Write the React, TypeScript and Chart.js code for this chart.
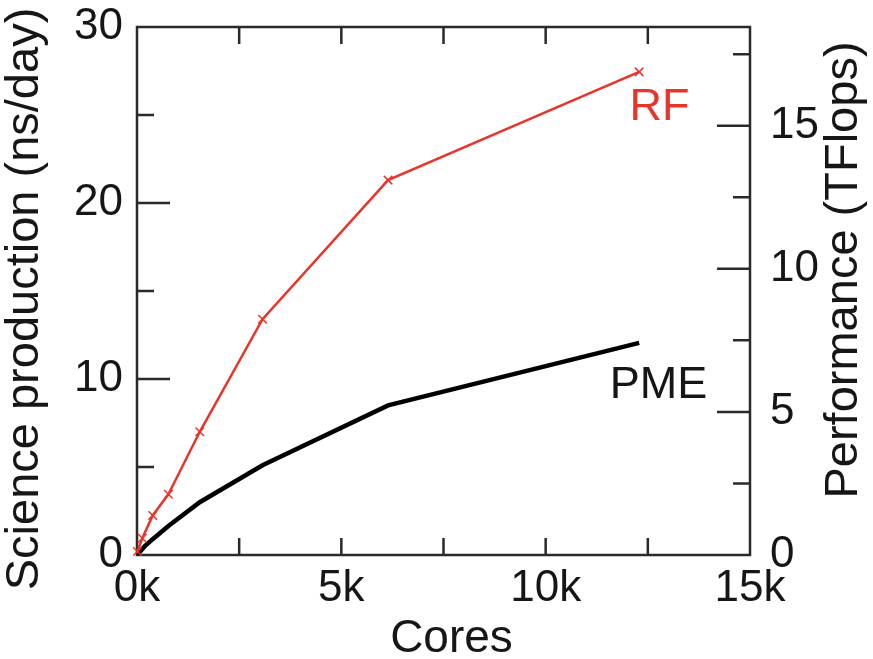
import React, { useEffect, useRef } from "react";
import { Chart, registerables } from "chart.js";

Chart.register(...registerables);

// ---- data ----
const RF_CORES = [10, 130, 384, 768, 1536, 3072, 6144, 12288];
const RF_NS_DAY = [0.2, 0.95, 2.25, 3.45, 7.0, 13.4, 21.3, 27.45];
const PME_CORES = [0, 192, 384, 768, 1536, 3072, 6144, 12288];
const PME_NS_DAY = [0, 0.5, 0.9, 1.65, 3.0, 5.1, 8.5, 12.05];

const X_TICKS = [0, 5000, 10000, 15000];
const X_MINOR = [2500, 7500, 12500];
const Y_TICKS = [0, 10, 20, 30];
const Y_MINOR = [5, 15, 25];
const Y2_TICKS = [0, 5, 10, 15];
const Y2_MINOR = [2.5, 7.5, 12.5, 17.5];
const Y2_MAX = 18.45;

const X_TITLE = "Cores";
const Y_TITLE = "Science production (ns/day)";
const Y2_TITLE = "Performance (TFlops)";
const RF_LABEL = "RF";
const PME_LABEL = "PME";
// label anchors in data units (cores, ns/day)
const RF_LABEL_AT = [12050, 24.7];
const PME_LABEL_AT = [11570, 8.9];

const FONT = "'Liberation Sans', Arial, Helvetica, sans-serif";
const RED = "#e8352b";
const AXIS = "#2a2a2a";
const TEXT = "#161616";

const framePlugin = {
  id: "frameTicks",
  beforeDatasetsDraw(chart: any) {
    const { ctx, chartArea: a, scales } = chart;
    ctx.save();
    ctx.strokeStyle = AXIS;
    ctx.lineWidth = 2.5;
    ctx.strokeRect(a.left, a.top, a.right - a.left, a.bottom - a.top);
    ctx.beginPath();
    const xs = scales.x;
    [...X_TICKS, ...X_MINOR].forEach((v) => {
      const px = xs.getPixelForValue(v);
      if (px <= a.left + 1 || px >= a.right - 1) return;
      ctx.moveTo(px, a.bottom);
      ctx.lineTo(px, a.bottom - 17);
      ctx.moveTo(px, a.top);
      ctx.lineTo(px, a.top + 17);
    });
    const ys = scales.y;
    Y_TICKS.forEach((v) => {
      const py = ys.getPixelForValue(v);
      if (py <= a.top + 1 || py >= a.bottom - 1) return;
      ctx.moveTo(a.left, py);
      ctx.lineTo(a.left + 33, py);
    });
    Y_MINOR.forEach((v) => {
      const py = ys.getPixelForValue(v);
      ctx.moveTo(a.left, py);
      ctx.lineTo(a.left + 17, py);
    });
    const y2 = scales.y2;
    Y2_TICKS.forEach((v) => {
      const py = y2.getPixelForValue(v);
      if (py <= a.top + 1 || py >= a.bottom - 1) return;
      ctx.moveTo(a.right, py);
      ctx.lineTo(a.right - 33, py);
    });
    Y2_MINOR.forEach((v) => {
      const py = y2.getPixelForValue(v);
      ctx.moveTo(a.right, py);
      ctx.lineTo(a.right - 17, py);
    });
    ctx.stroke();
    ctx.restore();
  },
  afterDraw(chart: any) {
    const { ctx, chartArea: a, scales } = chart;
    ctx.save();
    ctx.textBaseline = "alphabetic";
    // axis titles
    ctx.fillStyle = TEXT;
    ctx.font = `46px ${FONT}`;
    ctx.textAlign = "center";
    ctx.fillText(X_TITLE, (a.left + a.right) / 2 + 8, 652);

    ctx.save();
    ctx.translate(38, 299);
    ctx.rotate(-Math.PI / 2);
    ctx.font = `47px ${FONT}`;
    ctx.fillText(Y_TITLE, 0, 0);
    ctx.restore();

    ctx.save();
    ctx.translate(857, 270);
    ctx.rotate(-Math.PI / 2);
    ctx.font = `47px ${FONT}`;
    ctx.fillText(Y2_TITLE, 0, 0);
    ctx.restore();

    // series labels
    ctx.textAlign = "left";
    ctx.font = `45px ${FONT}`;
    ctx.fillStyle = RED;
    ctx.fillText(
      RF_LABEL,
      scales.x.getPixelForValue(RF_LABEL_AT[0]),
      scales.y.getPixelForValue(RF_LABEL_AT[1])
    );
    ctx.fillStyle = TEXT;
    ctx.fillText(
      PME_LABEL,
      scales.x.getPixelForValue(PME_LABEL_AT[0]),
      scales.y.getPixelForValue(PME_LABEL_AT[1])
    );
    ctx.restore();
  },
};

const noPad = (s: any) => {
  s.paddingTop = 0;
  s.paddingBottom = 0;
  s.paddingLeft = 0;
  s.paddingRight = 0;
};

export default function App() {
  const ref = useRef<HTMLCanvasElement | null>(null);

  useEffect(() => {
    if (!ref.current) return;
    const tickFont = { family: FONT, size: 44 };
    const chart = new Chart(ref.current, {
      type: "line",
      data: {
        datasets: [
          {
            label: RF_LABEL,
            data: RF_CORES.map((c, i) => ({ x: c, y: RF_NS_DAY[i] })),
            borderColor: RED,
            backgroundColor: RED,
            borderWidth: 2.5,
            pointStyle: "crossRot",
            pointRadius: 6,
            pointBorderWidth: 1.5,
            pointBorderColor: RED,
            tension: 0,
            clip: false as any,
            yAxisID: "y",
          },
          {
            label: PME_LABEL,
            data: PME_CORES.map((c, i) => ({ x: c, y: PME_NS_DAY[i] })),
            borderColor: "#000000",
            backgroundColor: "#000000",
            borderWidth: 4.5,
            pointRadius: 0,
            tension: 0,
            yAxisID: "y",
          },
        ],
      },
      options: {
        animation: false,
        responsive: false,
        devicePixelRatio: 1,
        layout: { padding: { top: 27, left: 0, right: 0, bottom: 0 } },
        plugins: {
          legend: { display: false },
          tooltip: { enabled: false },
          title: { display: false },
        },
        scales: {
          x: {
            type: "linear",
            position: "bottom",
            min: 0,
            max: 15000,
            grid: { display: false, drawTicks: false },
            border: { display: false },
            ticks: {
              font: tickFont,
              color: TEXT,
              padding: 7,
              maxRotation: 0,
              autoSkip: false,
              callback: (v: any) => `${Number(v) / 1000}k`,
            },
            afterBuildTicks: (s: any) => {
              s.ticks = X_TICKS.map((v) => ({ value: v }));
            },
            afterFit: (s: any) => {
              s.height = 104;
              noPad(s);
            },
          },
          y: {
            type: "linear",
            position: "left",
            min: 0,
            max: 30,
            grid: { display: false, drawTicks: false },
            border: { display: false },
            ticks: { font: tickFont, color: TEXT, padding: 14, autoSkip: false },
            afterBuildTicks: (s: any) => {
              s.ticks = Y_TICKS.map((v) => ({ value: v }));
            },
            afterFit: (s: any) => {
              s.width = 137;
              noPad(s);
            },
          },
          y2: {
            type: "linear",
            position: "right",
            min: 0,
            max: Y2_MAX,
            grid: { display: false, drawTicks: false },
            border: { display: false },
            ticks: { font: tickFont, color: TEXT, padding: 20, autoSkip: false },
            afterBuildTicks: (s: any) => {
              s.ticks = Y2_TICKS.map((v) => ({ value: v }));
            },
            afterFit: (s: any) => {
              s.width = 123;
              noPad(s);
            },
          },
        },
      } as any,
      plugins: [framePlugin],
    });
    return () => chart.destroy();
  }, []);

  return (
    <div style={{ position: "absolute", left: 0, top: 0, width: 873, height: 659, background: "#fff" }}>
      <canvas ref={ref} width={873} height={659} style={{ display: "block" }} />
    </div>
  );
}
